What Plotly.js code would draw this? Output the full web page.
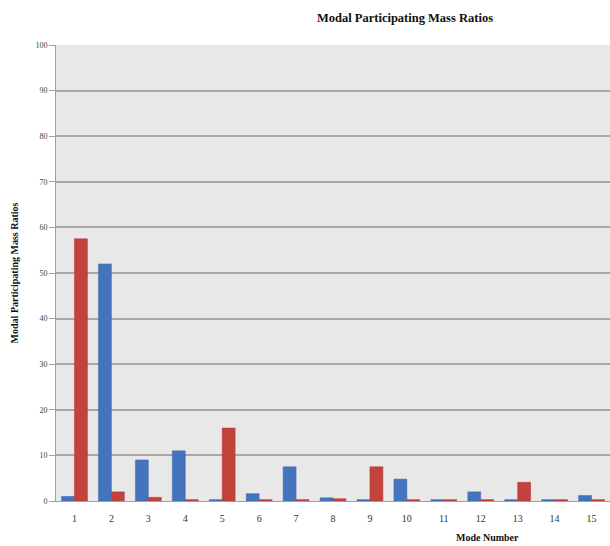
<!DOCTYPE html>
<html><head><meta charset="utf-8">
<script src="https://cdn.plot.ly/plotly-3.0.1.min.js"></script>
<style>html,body{margin:0;padding:0;background:#fff}#chart{width:610px;height:546px}</style>
</head><body><div id="chart"></div>
<script>
const modes = ['1','2','3','4','5','6','7','8','9','10','11','12','13','14','15'];
const seriesA = [1.0, 52.0, 9.0, 11.0, 0.3, 1.6, 7.5, 0.7, 0.3, 4.8, 0.3, 2.0, 0.3, 0.3, 1.2];
const seriesB = [57.5, 2.0, 0.8, 0.3, 16.0, 0.3, 0.3, 0.5, 7.5, 0.3, 0.3, 0.3, 4.1, 0.3, 0.3];
const yTicks = [0,10,20,30,40,50,60,70,80,90,100];

const serif = 'Liberation Serif, Times New Roman, serif';
const traces = [
  {type:'bar', x:modes, y:seriesA, marker:{color:'#4474bb', line:{color:'#3a66a8', width:0.5}}, name:'A'},
  {type:'bar', x:modes, y:seriesB, marker:{color:'#c4423c', line:{color:'#a83632', width:0.5}}, name:'B'}
];
const layout = {
  width:610, height:546,
  margin:{l:56, r:0, t:45, b:45},
  paper_bgcolor:'#ffffff', plot_bgcolor:'#e8e8e8',
  showlegend:false,
  barmode:'group', bargap:0.3, bargroupgap:0,
  title:{text:'<b>Modal Participating Mass Ratios</b>', x:405/610, xref:'container', xanchor:'center', y:1-18/546, yref:'container', yanchor:'middle', font:{family:serif, size:12.5, color:'#111'}},
  xaxis:{type:'category', tickvals:modes, ticktext:modes, showgrid:false, showline:true, linecolor:'#a0a0a0', linewidth:1,
    ticks:'', tickfont:{family:serif, size:10, color:'#333'}, ticklabelstandoff:8},
  yaxis:{range:[0,100], tickvals:yTicks, ticktext:yTicks.map(String), showgrid:true, gridcolor:'#a8a8a8', gridwidth:2,
    showline:true, linecolor:'#a0a0a0', linewidth:1, zeroline:false, ticks:'outside', ticklen:6, tickcolor:'#a0a0a0',
    tickfont:{family:serif, size:8, color:'#444'},
    title:{text:'<b>Modal Participating Mass Ratios</b>', font:{family:serif, size:10, color:'#111'}, standoff:14}},
  annotations:[{text:'<b>Mode Number</b>', xref:'paper', yref:'paper', x:(487-56)/554, y:-36/456, xanchor:'center', yanchor:'middle', showarrow:false, font:{family:serif, size:10, color:'#111'}}]
};
Plotly.newPlot('chart', traces, layout, {displayModeBar:false, staticPlot:true});
</script></body></html>
